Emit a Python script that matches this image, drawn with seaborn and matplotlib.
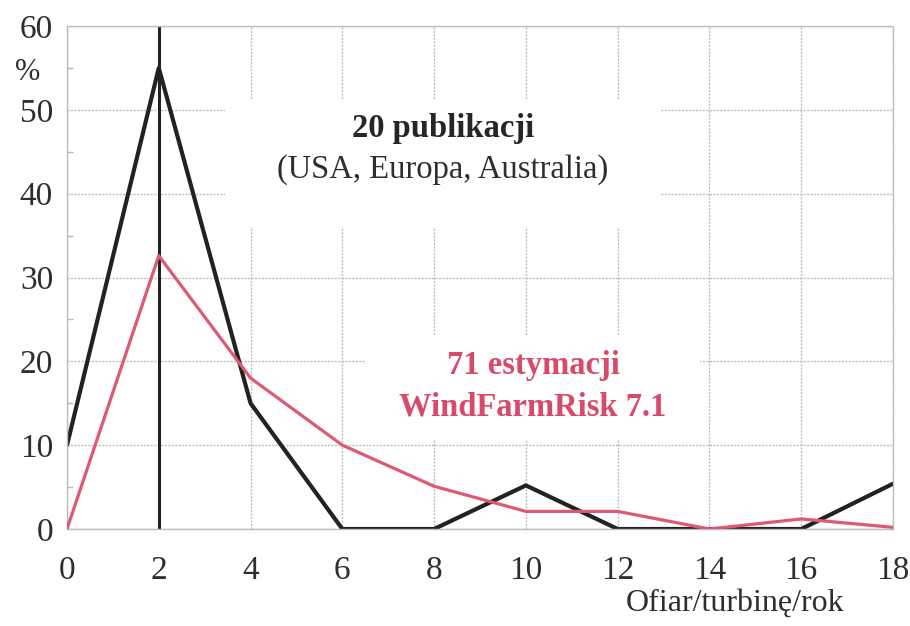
import numpy as np
import pandas as pd
import seaborn as sns
import matplotlib
matplotlib.use("Agg")
import matplotlib.pyplot as plt
from matplotlib.patches import Rectangle

# ---- data ----
x_values = [0, 2, 4, 6, 8, 10, 12, 14, 16, 18]
publications = [10, 55, 15, 0, 0, 5.2, 0, 0, 0, 5.4]
estimates = [0, 32.6, 18, 10, 5.1, 2.1, 2.1, 0, 1.2, 0.2]
series_names = ["20 publikacji", "71 estymacji"]
peak_x = 2
x_ticks = [0, 2, 4, 6, 8, 10, 12, 14, 16, 18]
y_ticks = [0, 10, 20, 30, 40, 50, 60]

df = pd.DataFrame({
    "x": x_values * 2,
    "y": publications + estimates,
    "series": [series_names[0]] * len(x_values) + [series_names[1]] * len(x_values),
})

sns.set_theme(style="white")
plt.rcParams["font.family"] = ["Liberation Serif", "DejaVu Serif"]

fig = plt.figure(figsize=(9.1, 6.26), dpi=100, facecolor="white")
ax = fig.add_axes([67/910, 1-529/626, (893-67)/910, (529-26)/626])

BLACK = "#222222"
RED = "#dc5a74"
TXT_RED = "#d84a6a"
TXT = "#2e2e2e"

sns.lineplot(data=df[df.series == series_names[1]], x="x", y="y", ax=ax,
             color=RED, linewidth=2.3, legend=False, zorder=3)
sns.lineplot(data=df[df.series == series_names[0]], x="x", y="y", ax=ax,
             color=BLACK, linewidth=3.0, legend=False, zorder=2)
ax.axvline(peak_x, color=BLACK, linewidth=2.2, zorder=2)

ax.set_xlim(0, 18)
ax.set_ylim(0, 60)
ax.set_xticks(x_ticks)
ax.set_yticks(y_ticks)
ax.set_yticks([5, 15, 25, 35, 45, 55], minor=True)
ax.set_xlabel("")
ax.set_ylabel("")

ax.grid(True, which="major", color="#bdbdbd", linestyle=(0, (1.5, 1)), linewidth=1.0)
ax.set_axisbelow(True)
for s in ax.spines.values():
    s.set_color("#bdbdbd")
    s.set_linewidth(1.0)
    s.set_linestyle((0, (1.5, 1)))

ax.tick_params(axis="x", which="major", length=0, pad=19, labelsize=24, labelcolor=TXT)
ax.tick_params(axis="y", which="major", length=0, pad=10, labelsize=24, labelcolor=TXT)
ax.tick_params(axis="y", which="minor", direction="in", length=4, color="#b8b8b8", left=True)

# white masks behind annotation text
ax.add_patch(Rectangle(((225-67)/826, (529-227)/503), (660-225)/826, (227-100)/503,
                       transform=ax.transAxes, facecolor="white", edgecolor="none", zorder=1))
ax.add_patch(Rectangle(((365-67)/826, (529-440)/503), (700-365)/826, (440-335)/503,
                       transform=ax.transAxes, facecolor="white", edgecolor="none", zorder=1))

ax.text((443-67)/826, (529-128)/503, "20 publikacji", transform=ax.transAxes,
        ha="center", va="center", fontsize=23.5, fontweight="bold", color="#262626", zorder=4)
ax.text((443-67)/826, (529-170)/503, "(USA, Europa, Australia)", transform=ax.transAxes,
        ha="center", va="center", fontsize=23.5, color=TXT, zorder=4)
ax.text((533-67)/826, (529-365)/503, "71 estymacji", transform=ax.transAxes,
        ha="center", va="center", fontsize=23.5, fontweight="bold", color=TXT_RED, zorder=4)
ax.text((533-67)/826, (529-407)/503, "WindFarmRisk 7.1", transform=ax.transAxes,
        ha="center", va="center", fontsize=23.5, fontweight="bold", color=TXT_RED, zorder=4)

fig.text(28/910, 1-72/626, "%", ha="center", va="center", fontsize=22, color=TXT)
fig.text(735/910, 1-603/626, "Ofiar/turbinę/rok", ha="center", va="center",
         fontsize=23, color=TXT)

fig.savefig("out.png", dpi=100, facecolor="white")
